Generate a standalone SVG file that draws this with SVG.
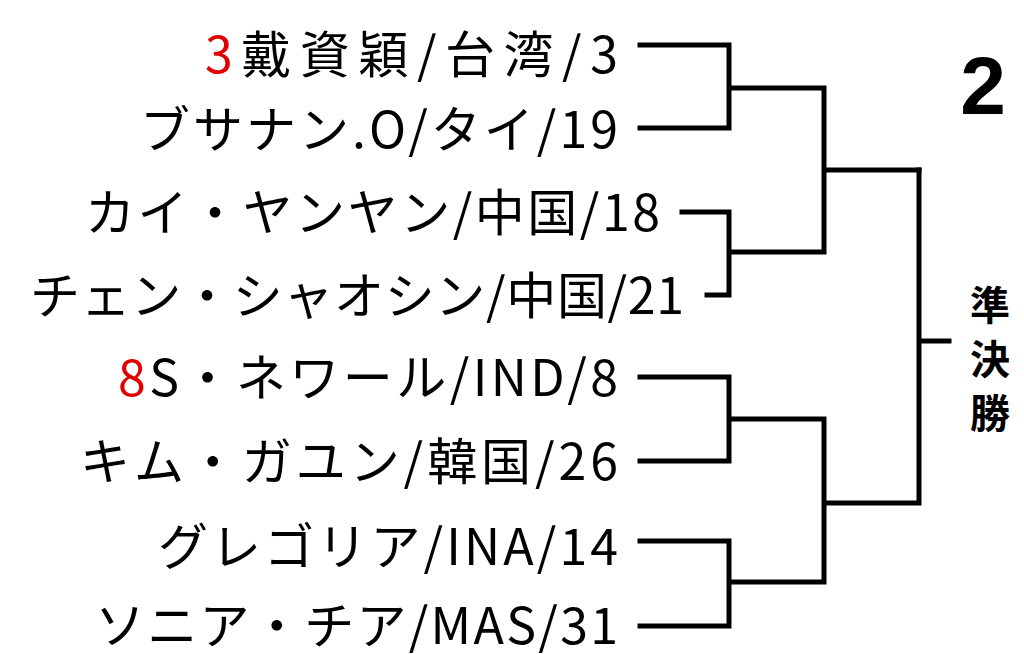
<svg xmlns="http://www.w3.org/2000/svg" width="1024" height="654" viewBox="0 0 1024 654">
<style>
.t{font-family:"Noto Sans CJK JP","Liberation Sans",sans-serif;font-size:50px;fill:#000}
.r{fill:#e00000}
.c{fill:none;stroke:#000;stroke-width:5;stroke-linecap:square}
</style>
<rect width="1024" height="654" fill="#fff"/>
<g id="n1"><text class="t" x="205" y="73" textLength="413" lengthAdjust="spacing"><tspan class="r">3</tspan>戴資穎/台湾/3</text></g>
<g id="n2"><text class="t" x="140" y="148" textLength="478" lengthAdjust="spacing">ブサナン.O/タイ/19</text></g>
<g id="n3"><text class="t" x="85" y="231" textLength="575" lengthAdjust="spacing">カイ・ヤンヤン/中国/18</text></g>
<g id="n4"><text class="t" x="30" y="314" textLength="654" lengthAdjust="spacing">チェン・シャオシン/中国/21</text></g>
<g id="n5"><text class="t" x="118" y="396" textLength="500" lengthAdjust="spacing"><tspan class="r">8</tspan>S・ネワール/IND/8</text></g>
<g id="n6"><text class="t" x="80" y="480" textLength="538" lengthAdjust="spacing">キム・ガユン/韓国/26</text></g>
<g id="n7"><text class="t" x="158" y="565" textLength="460" lengthAdjust="spacing">グレゴリア/INA/14</text></g>
<g id="n8"><text class="t" x="95" y="644" textLength="523" lengthAdjust="spacing">ソニア・チア/MAS/31</text></g>
<g id="title"><text x="983" y="114" font-family="'Liberation Sans',sans-serif" font-weight="bold" font-size="82" text-anchor="middle">2</text></g>
<g id="round" font-family="'Noto Sans CJK JP',sans-serif" font-weight="bold" font-size="40" text-anchor="middle"><text x="990" y="320">準</text><text x="990" y="374">決</text><text x="990" y="428">勝</text></g>
<g id="connectors">
<path class="c" d="M640 45H729V128H640M729 88H824M682 212H729V295H707M729 252H824M824 88V252M824 170H919"/>
<path class="c" d="M640 377H729V461H640M729 419H824M640 541H729V626H640M729 582H824M824 419V582M824 503H919M919 170V503M919 341H949"/>
</g>
</svg>
